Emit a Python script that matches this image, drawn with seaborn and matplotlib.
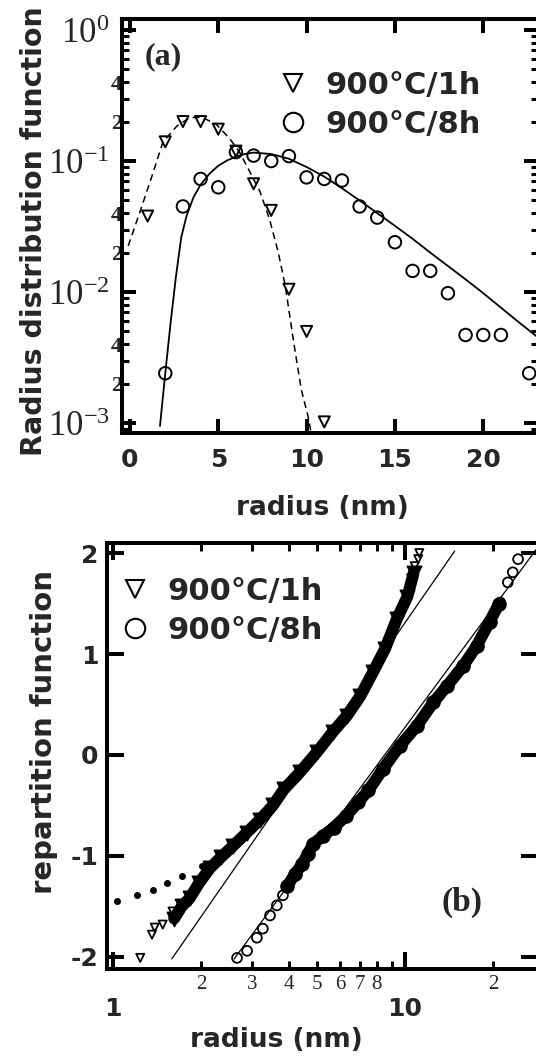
import math
import matplotlib
matplotlib.use("Agg")
import matplotlib.pyplot as plt
from matplotlib import ticker
from matplotlib.lines import Line2D
import seaborn as sns

# ---------------- (a) radius distribution function, 1 nm bins ----------------
r_1h = [1, 2, 3, 4, 5, 6, 7, 8, 9, 10, 11]
f_1h = [0.038, 0.14, 0.20, 0.20, 0.175, 0.119, 0.067, 0.042, 0.0105, 0.0050, 0.00102]

r_8h = [2, 3, 4, 5, 6, 7, 8, 9, 10, 11, 12, 13, 14, 15, 16, 17, 18, 19, 20, 21, 22.6]
f_8h = [0.0024, 0.045, 0.073, 0.063, 0.117, 0.110, 0.100, 0.109, 0.075, 0.073,
        0.071, 0.045, 0.037, 0.024, 0.0145, 0.0145, 0.0098, 0.0047, 0.0047,
        0.0047, 0.0024]

# fitted distributions
fit_1h_r = [-0.1, 0.57, 1.25, 1.87, 2.66, 3.4, 4.1, 4.9, 5.67, 6.2, 6.8, 7.37,
            7.9, 8.4, 8.8, 9.25, 9.7, 10.1, 10.25]
fit_1h_f = [0.0225, 0.041, 0.077, 0.14, 0.185, 0.215, 0.215, 0.19, 0.147, 0.117,
            0.082, 0.058, 0.036, 0.020, 0.011, 0.0043, 0.0018, 0.0011, 0.00085]

fit_8h_r = [1.7, 2.0, 2.3, 2.6, 2.9, 3.2, 3.6, 4.0, 4.5, 5.0, 5.5, 6.0, 6.5, 7.0,
            8, 9, 10, 11, 12, 13, 14, 15, 16, 17, 18, 19, 20, 21, 22, 23.1]
fit_8h_f = [0.00095, 0.0024, 0.0058, 0.013, 0.026, 0.038, 0.053, 0.066, 0.080,
            0.092, 0.101, 0.108, 0.113, 0.116, 0.113, 0.104, 0.090, 0.076, 0.062,
            0.050, 0.040, 0.032, 0.0255, 0.020, 0.0158, 0.0125, 0.0098, 0.0076,
            0.0059, 0.0045]

# ---------------- (b) repartition function (probit) vs radius ----------------
# dense part of each cumulative curve
band_1h_r = [1.62, 1.72, 1.83, 1.97, 2.15, 2.35, 2.58, 2.87, 3.19, 3.53, 3.85,
             4.37, 5.0, 5.67, 6.33, 7.02, 7.77, 8.54, 9.39, 10.2, 10.7]
band_1h_q = [-1.62, -1.5, -1.42, -1.27, -1.12, -1.01, -0.9, -0.77, -0.64, -0.5,
             -0.34, -0.17, 0.03, 0.23, 0.39, 0.58, 0.82, 1.05, 1.35, 1.57, 1.8]
band_8h_r = [3.95, 4.2, 4.45, 4.65, 4.85, 5.25, 5.7, 6.3, 6.9, 7.5, 8.4, 9.6,
             11.0, 12.5, 13.9, 15.8, 17.6, 19.5, 21.0]
band_8h_q = [-1.3, -1.18, -1.08, -0.98, -0.88, -0.8, -0.72, -0.6, -0.47, -0.35,
             -0.14, 0.09, 0.29, 0.52, 0.68, 0.88, 1.08, 1.32, 1.5]

# isolated points at the tails
tail_1h_r = [1.24, 1.36, 1.39, 1.48, 1.6, 1.6, 10.5, 10.8, 11.1, 11.2]
tail_1h_q = [-2.01, -1.78, -1.71, -1.68, -1.62, -1.55, 1.75, 1.87, 1.94, 2.0]
tail_8h_r = [2.66, 2.88, 3.11, 3.26, 3.45, 3.64, 3.82, 21.2, 22.5, 23.4, 24.4]
tail_8h_q = [-2.01, -1.94, -1.81, -1.72, -1.59, -1.49, -1.39, 1.51, 1.71, 1.81, 1.94]

# small filled dots to the left of the 1 h curve
dots_r = [1.03, 1.21, 1.37, 1.53, 1.72, 2.02]
dots_q = [-1.45, -1.39, -1.34, -1.27, -1.2, -1.1]

# log-normal fits (straight lines in probit / log coordinates)
lin_1h_r = [1.59, 14.8]
lin_1h_q = [-2.02, 2.02]
lin_8h_r = [2.6, 28.55]
lin_8h_q = [-2.02, 2.06]

labels = ["900°C/1h", "900°C/8h"]

# ---------------- style ----------------
sns.set_style("ticks")
plt.rcParams.update({
    "font.family": ["DejaVu Sans"],
    "font.weight": "bold",
    "axes.linewidth": 2.9,
    "axes.edgecolor": "black",
    "axes.unicode_minus": False,
    "mathtext.default": "regular",
})
SERIF = "Liberation Serif"
K = "black"

fig = plt.figure(figsize=(5.36, 10.57), dpi=100)
W, H = 536.0, 1057.0
ax1 = fig.add_axes([122 / W, 1 - 433 / H, 416 / W, 414 / H])
ax2 = fig.add_axes([107 / W, 1 - 969 / H, 431 / W, 426 / H])

# ---------------- panel (a) ----------------
sns.lineplot(x=fit_1h_r, y=fit_1h_f, ax=ax1, color=K, lw=1.1,
             linestyle=(0, (4.5, 3)), sort=False, estimator=None)
sns.lineplot(x=fit_8h_r, y=fit_8h_f, ax=ax1, color=K, lw=1.3,
             sort=False, estimator=None)
ax1.scatter(r_1h, f_1h, marker="v", s=64, facecolors="none",
            edgecolors=K, linewidths=1.4, zorder=3)
ax1.scatter(r_8h, f_8h, marker="o", s=81, facecolors="none",
            edgecolors=K, linewidths=1.4, zorder=3)

ax1.set_yscale("log")
ax1.set_xlim(-0.45, 23.1)
ax1.set_ylim(10 ** -3.076, 10 ** 0.084)
ax1.xaxis.set_major_locator(ticker.FixedLocator([0, 5, 10, 15, 20]))
ax1.xaxis.set_minor_locator(ticker.NullLocator())
ax1.yaxis.set_major_locator(ticker.FixedLocator([1e-3, 1e-2, 1e-1, 1e0]))
ax1.yaxis.set_minor_locator(ticker.LogLocator(base=10, subs=range(2, 10)))
ax1.yaxis.set_major_formatter(ticker.FuncFormatter(
    lambda v, p: r"$\mathregular{10^{%d}}$" % round(math.log10(v))))


def minor_lab(v, p):
    m = round(v / 10 ** math.floor(math.log10(v) + 1e-9))
    return "%d" % m if m in (2, 4) else ""


ax1.yaxis.set_minor_formatter(ticker.FuncFormatter(minor_lab))

ax1.tick_params(which="major", direction="in", length=10, width=2.9,
                top=True, right=True, color=K)
ax1.tick_params(which="minor", direction="in", length=5, width=2.2,
                left=True, right=True, color=K)
ax1.tick_params(axis="x", which="major", labelsize=18, pad=11)
ax1.tick_params(axis="y", which="major", labelsize=25, pad=9,
                labelfontfamily=SERIF)
ax1.tick_params(axis="y", which="minor", labelsize=16, pad=0,
                labelfontfamily=SERIF)
for t in ax1.yaxis.get_majorticklabels():
    t.set_fontweight("normal")

ax1.set_xlabel("radius (nm)", fontsize=19, fontweight="bold")
ax1.set_ylabel("Radius distribution function", fontsize=20.5, fontweight="bold")
ax1.xaxis.set_label_coords(0.481, -0.15)
ax1.yaxis.set_label_coords(-0.178, 0.488)

ax1.text(0.099, 0.908, "(a)", transform=ax1.transAxes, ha="center",
         va="center", fontsize=23, fontweight="bold", family=SERIF)

h1 = Line2D([], [], marker="v", ls="none", ms=13, mfc="none", mec=K, mew=1.5)
h2 = Line2D([], [], marker="o", ls="none", ms=14, mfc="none", mec=K, mew=1.5)
leg_kw = dict(frameon=False, prop={"family": "DejaVu Sans", "weight": "bold",
                                   "size": 22},
              handlelength=0.7, handletextpad=0.7, labelspacing=0.31,
              borderpad=0, borderaxespad=0, loc="upper left")
ax1.legend([h1, h2], labels, bbox_to_anchor=(0.385, 0.874), **leg_kw)

# ---------------- panel (b) ----------------
sns.lineplot(x=lin_1h_r, y=lin_1h_q, ax=ax2, color=K, lw=0.9,
             sort=False, estimator=None)
sns.lineplot(x=lin_8h_r, y=lin_8h_q, ax=ax2, color=K, lw=0.9,
             sort=False, estimator=None)
sns.lineplot(x=band_1h_r, y=band_1h_q, ax=ax2, color=K, lw=8.5,
             sort=False, estimator=None, solid_capstyle="round")
sns.lineplot(x=band_8h_r, y=band_8h_q, ax=ax2, color=K, lw=8.5,
             sort=False, estimator=None, solid_capstyle="round")
ax2.scatter(band_1h_r, band_1h_q, marker="v", s=110, color=K, zorder=3)
ax2.scatter(band_8h_r, band_8h_q, marker="o", s=90, color=K, zorder=3)
ax2.scatter(tail_1h_r, tail_1h_q, marker="v", s=34, facecolors="none",
            edgecolors=K, linewidths=1.3, zorder=3)
ax2.scatter(tail_8h_r, tail_8h_q, marker="o", s=50, facecolors="none",
            edgecolors=K, linewidths=1.3, zorder=3)
ax2.scatter(dots_r, dots_q, marker="o", s=16, color=K, zorder=3)

ax2.set_xscale("log")
ax2.set_xlim(0.954, 28.55)
ax2.set_ylim(-2.12, 2.1)
ax2.xaxis.set_major_locator(ticker.FixedLocator([1, 10]))
ax2.xaxis.set_major_formatter(ticker.FixedFormatter(["1", "10"]))
ax2.xaxis.set_minor_locator(ticker.FixedLocator([2, 3, 4, 5, 6, 7, 8, 9, 20]))
ax2.xaxis.set_minor_formatter(ticker.FixedFormatter(
    ["2", "3", "4", "5", "6", "7", "8", "", "2"]))
ax2.yaxis.set_major_locator(ticker.FixedLocator([-2, -1, 0, 1, 2]))
ax2.yaxis.set_minor_locator(ticker.NullLocator())

ax2.tick_params(which="major", direction="in", length=12, width=2.9,
                top=True, right=True, color=K)
ax2.tick_params(axis="x", which="minor", direction="in", length=6, width=2.2,
                top=True, bottom=True, color=K)
ax2.tick_params(axis="x", which="major", labelsize=18, pad=20)
ax2.tick_params(axis="x", which="minor", labelsize=15, pad=4,
                labelfontfamily=SERIF)
ax2.tick_params(axis="y", which="major", labelsize=18, pad=6)
for t in ax2.xaxis.get_minorticklabels():
    t.set_fontweight("normal")

ax2.set_xlabel("radius (nm)", fontsize=19, fontweight="bold")
ax2.set_ylabel("repartition function", fontsize=21, fontweight="bold")
ax2.xaxis.set_label_coords(0.394, -0.135)
ax2.yaxis.set_label_coords(-0.114, 0.556)

ax2.text(0.824, 0.157, "(b)", transform=ax2.transAxes, ha="center",
         va="center", fontsize=24, fontweight="bold", family=SERIF)
ax2.legend([h1, h2], labels, bbox_to_anchor=(0.040, 0.920), **leg_kw)

fig.savefig("out.png", dpi=100)
